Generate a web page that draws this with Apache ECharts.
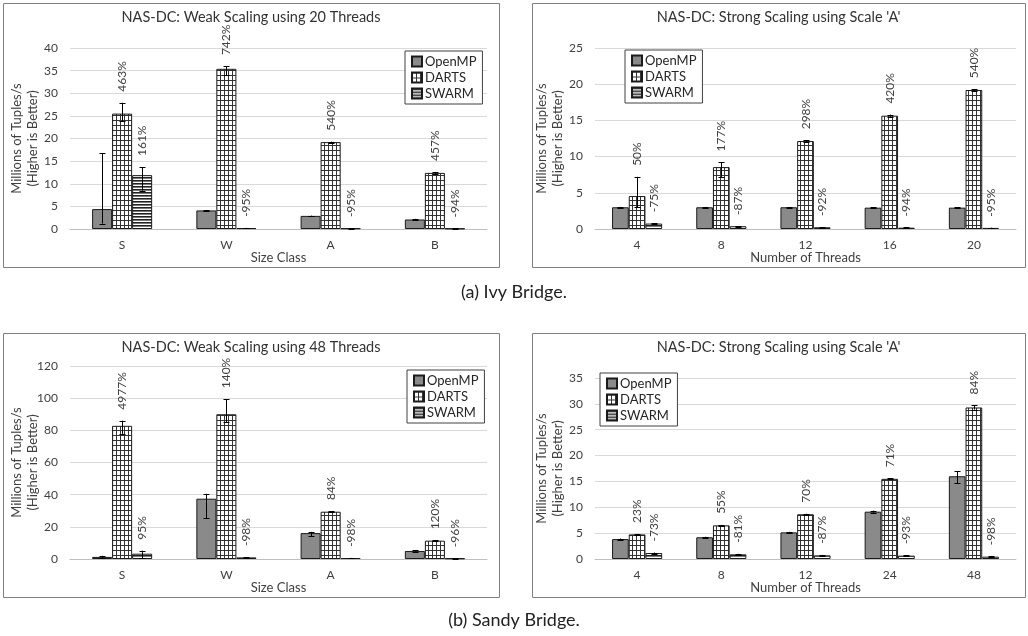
<!DOCTYPE html>
<html>
<head>
<meta charset="utf-8">
<script src="https://cdn.jsdelivr.net/npm/echarts@6/dist/echarts.min.js"></script>
<style>
html,body{margin:0;padding:0;background:#fff;}
#c{width:1028px;height:636px;}
</style>
</head>
<body>
<div id="c"></div>
<script>
// ---------- DATA ----------
const seriesNames = ['OpenMP', 'DARTS', 'SWARM'];

// (a) Ivy Bridge – weak scaling, 20 threads
const ivyWeakTitle = 'NAS-DC: Weak Scaling using 20 Threads';
const ivyWeakCats = ['S', 'W', 'A', 'B'];
const ivyWeakOpenMP = [4.4, 4.1, 2.9, 2.1];
const ivyWeakOpenMPErr = [[1.2, 16.7], [4.0, 4.2], [2.85, 2.95], [2.0, 2.25]];
const ivyWeakDARTS = [25.5, 35.4, 19.2, 12.4];
const ivyWeakDARTSErr = [[23.8, 27.9], [34.0, 36.0], [19.1, 19.3], [12.2, 12.6]];
const ivyWeakSWARM = [11.9, 0.2, 0.15, 0.1];
const ivyWeakSWARMErr = [[8.5, 13.7], [0.15, 0.25], [0.1, 0.2], [0.07, 0.13]];
const ivyWeakDARTSLabels = ['463%', '742%', '540%', '457%'];
const ivyWeakSWARMLabels = ['161%', '-95%', '-95%', '-94%'];
const ivyWeakYTicks = { max: 40, interval: 5 };

// (a) Ivy Bridge – strong scaling, scale 'A'
const ivyStrongTitle = "NAS-DC: Strong Scaling using Scale 'A'";
const ivyStrongCats = ['4', '8', '12', '16', '20'];
const ivyStrongOpenMP = [3.0, 3.0, 3.0, 2.95, 2.95];
const ivyStrongOpenMPErr = [[2.95, 3.05], [2.95, 3.05], [2.95, 3.05], [2.9, 3.0], [2.9, 3.0]];
const ivyStrongDARTS = [4.55, 8.55, 12.15, 15.65, 19.2];
const ivyStrongDARTSErr = [[3.0, 7.2], [7.2, 9.2], [12.05, 12.25], [15.5, 15.8], [19.1, 19.3]];
const ivyStrongSWARM = [0.75, 0.38, 0.24, 0.18, 0.15];
const ivyStrongSWARMErr = [[0.7, 0.8], [0.34, 0.42], [0.2, 0.28], [0.15, 0.21], [0.12, 0.18]];
const ivyStrongDARTSLabels = ['50%', '177%', '298%', '420%', '540%'];
const ivyStrongSWARMLabels = ['-75%', '-87%', '-92%', '-94%', '-95%'];
const ivyStrongYTicks = { max: 25, interval: 5 };

// (b) Sandy Bridge – weak scaling, 48 threads
const sandyWeakTitle = 'NAS-DC: Weak Scaling using 48 Threads';
const sandyWeakCats = ['S', 'W', 'A', 'B'];
const sandyWeakOpenMP = [1.3, 37.5, 16.1, 5.0];
const sandyWeakOpenMPErr = [[0.6, 2.0], [25.4, 40.5], [14.3, 16.9], [4.6, 5.4]];
const sandyWeakDARTS = [82.8, 90.0, 29.4, 11.4];
const sandyWeakDARTSErr = [[77.8, 86.0], [85.0, 99.3], [29.0, 29.8], [11.2, 11.6]];
const sandyWeakSWARM = [3.3, 1.0, 0.6, 0.4];
const sandyWeakSWARMErr = [[0.5, 5.2], [0.8, 1.2], [0.5, 0.7], [0.3, 0.5]];
const sandyWeakDARTSLabels = ['4977%', '140%', '84%', '120%'];
const sandyWeakSWARMLabels = ['95%', '-98%', '-98%', '-96%'];
const sandyWeakYTicks = { max: 120, interval: 20 };

// (b) Sandy Bridge – strong scaling, scale 'A'
const sandyStrongTitle = "NAS-DC: Strong Scaling using Scale 'A'";
const sandyStrongCats = ['4', '8', '12', '24', '48'];
const sandyStrongOpenMP = [3.85, 4.2, 5.15, 9.15, 16.0];
const sandyStrongOpenMPErr = [[3.75, 3.95], [4.1, 4.3], [5.05, 5.25], [8.95, 9.35], [14.6, 17.0]];
const sandyStrongDARTS = [4.75, 6.5, 8.65, 15.5, 29.3];
const sandyStrongDARTSErr = [[4.65, 4.85], [6.4, 6.6], [8.55, 8.75], [15.4, 15.6], [28.9, 29.7]];
const sandyStrongSWARM = [1.15, 0.9, 0.7, 0.65, 0.45];
const sandyStrongSWARMErr = [[1.05, 1.25], [0.8, 1.0], [0.6, 0.8], [0.55, 0.75], [0.38, 0.52]];
const sandyStrongDARTSLabels = ['23%', '55%', '70%', '71%', '84%'];
const sandyStrongSWARMLabels = ['-73%', '-81%', '-87%', '-93%', '-98%'];
const sandyStrongYTicks = { max: 35, interval: 5 };

const captionA = '(a) Ivy Bridge.';
const captionB = '(b) Sandy Bridge.';
const yName = 'Millions of Tuples/s\n(Higher is Better)';

// ---------- STYLE / PATTERNS ----------
function makePattern(w, h, draw) {
  const c = document.createElement('canvas');
  c.width = w; c.height = h;
  const ctx = c.getContext('2d');
  ctx.fillStyle = '#fff'; ctx.fillRect(0, 0, w, h);
  draw(ctx);
  return { image: c, repeat: 'repeat' };
}
const gridPattern = makePattern(4, 5, ctx => {
  ctx.fillStyle = '#333';
  ctx.fillRect(0, 0, 4, 1);
  ctx.fillRect(0, 0, 1, 5);
});
const hLinePattern = makePattern(4, 3, ctx => {
  ctx.fillStyle = '#222';
  ctx.fillRect(0, 0, 4, 1.6);
});
const fills = ['#8a8a8a', gridPattern, hLinePattern];

const FONT = 'Lato, "Open Sans", sans-serif';
const TXT = '#404040';

const panels = [
  { title: ivyWeakTitle, cats: ivyWeakCats, vals: [ivyWeakOpenMP, ivyWeakDARTS, ivyWeakSWARM],
    errs: [ivyWeakOpenMPErr, ivyWeakDARTSErr, ivyWeakSWARMErr],
    labels: [null, ivyWeakDARTSLabels, ivyWeakSWARMLabels], y: ivyWeakYTicks, xName: 'Size Class',
    box: [3, 3, 496, 264], grid: { left: 70, top: 48, width: 417, height: 181 }, gap: 0.424,
    legend: { left: 405, top: 51 } },
  { title: ivyStrongTitle, cats: ivyStrongCats, vals: [ivyStrongOpenMP, ivyStrongDARTS, ivyStrongSWARM],
    errs: [ivyStrongOpenMPErr, ivyStrongDARTSErr, ivyStrongSWARMErr],
    labels: [null, ivyStrongDARTSLabels, ivyStrongSWARMLabels], y: ivyStrongYTicks, xName: 'Number of Threads',
    box: [532, 3, 493, 264], grid: { left: 595, top: 48, width: 421, height: 181 }, gap: 0.405,
    legend: { left: 625, top: 50 } },
  { title: sandyWeakTitle, cats: sandyWeakCats, vals: [sandyWeakOpenMP, sandyWeakDARTS, sandyWeakSWARM],
    errs: [sandyWeakOpenMPErr, sandyWeakDARTSErr, sandyWeakSWARMErr],
    labels: [null, sandyWeakDARTSLabels, sandyWeakSWARMLabels], y: sandyWeakYTicks, xName: 'Size Class',
    box: [3, 333, 496, 264], grid: { left: 70, top: 366, width: 417, height: 193 }, gap: 0.424,
    legend: { left: 407, top: 370 } },
  { title: sandyStrongTitle, cats: sandyStrongCats, vals: [sandyStrongOpenMP, sandyStrongDARTS, sandyStrongSWARM],
    errs: [sandyStrongOpenMPErr, sandyStrongDARTSErr, sandyStrongSWARMErr],
    labels: [null, sandyStrongDARTSLabels, sandyStrongSWARMLabels], y: sandyStrongYTicks, xName: 'Number of Threads',
    box: [532, 333, 493, 264], grid: { left: 595, top: 378, width: 421, height: 181 }, gap: 0.405,
    legend: { left: 600, top: 373 } }
];

const option = {
  backgroundColor: '#fff',
  animation: false,
  textStyle: { fontFamily: FONT },
  grid: [], xAxis: [], yAxis: [], series: [], legend: [], graphic: []
};

panels.forEach((p, gi) => {
  option.grid.push(Object.assign({ containLabel: false }, p.grid));
  option.xAxis.push({
    type: 'category', gridIndex: gi, data: p.cats,
    axisLine: { lineStyle: { color: '#bfbfbf', width: 1 } },
    axisTick: { show: false },
    axisLabel: { color: TXT, fontSize: 12, margin: 10, fontFamily: FONT },
    name: p.xName, nameLocation: 'middle', nameGap: 22, nameMoveOverlap: false,
    nameTextStyle: { color: TXT, fontSize: 13, fontFamily: FONT }
  });
  option.yAxis.push({
    type: 'value', gridIndex: gi, min: 0, max: p.y.max, interval: p.y.interval,
    axisLine: { show: false }, axisTick: { show: false },
    splitLine: { lineStyle: { color: '#d9d9d9', width: 1 } },
    axisLabel: { color: TXT, fontSize: 12, margin: 12, fontFamily: FONT },
    name: yName, nameLocation: 'middle', nameGap: 29, nameRotate: 90, nameMoveOverlap: false,
    nameTextStyle: { color: TXT, fontSize: 13, lineHeight: 16, fontFamily: FONT, align: 'center' }
  });
  p.vals.forEach((arr, k) => {
    option.series.push({
      type: 'bar', name: seriesNames[k], xAxisIndex: gi, yAxisIndex: gi,
      data: arr, barGap: '0%', barCategoryGap: (p.gap * 100) + '%',
      itemStyle: { color: fills[k], borderColor: '#1a1a1a', borderWidth: 1 },
      z: 2
    });
  });
  p.vals.forEach((arr, k) => {
    const errs = p.errs[k];
    const labels = p.labels[k];
    option.series.push({
      type: 'custom', xAxisIndex: gi, yAxisIndex: gi, z: 5, silent: true,
      data: arr.map((v, i) => [i, errs[i][0], errs[i][1], v]),
      renderItem: function (params, api) {
        const i = api.value(0), lo = api.value(1), hi = api.value(2), v = api.value(3);
        const band = api.size([1, 0])[0];
        const bw = band * (1 - p.gap) / 3;
        const off = (k - 1) * bw;
        const pLo = api.coord([i, lo]);
        const pHi = api.coord([i, hi]);
        const pV = api.coord([i, v]);
        const x = Math.round(pLo[0] + off) + 0.5;
        const cap = 3;
        const ls = { stroke: '#000', lineWidth: 1 };
        const children = [
          { type: 'line', shape: { x1: x, y1: pLo[1], x2: x, y2: pHi[1] }, style: ls },
          { type: 'line', shape: { x1: x - cap, y1: Math.round(pLo[1]) + 0.5, x2: x + cap, y2: Math.round(pLo[1]) + 0.5 }, style: ls },
          { type: 'line', shape: { x1: x - cap, y1: Math.round(pHi[1]) + 0.5, x2: x + cap, y2: Math.round(pHi[1]) + 0.5 }, style: ls }
        ];
        if (labels) {
          const topY = Math.min(pHi[1], pV[1]);
          children.push({
            type: 'text', x: x, y: topY - 11, rotation: Math.PI / 2,
            style: { text: labels[params.dataIndex], fill: TXT, font: '12px ' + FONT,
                     align: 'left', verticalAlign: 'middle' }
          });
        }
        return { type: 'group', children: children };
      }
    });
  });
  option.legend.push({
    data: seriesNames, orient: 'vertical', left: p.legend.left, top: p.legend.top,
    icon: 'rect', itemWidth: 10, itemHeight: 10, itemGap: 3,
    borderColor: '#404040', borderWidth: 1, padding: [4, 6, 4, 6],
    backgroundColor: '#fff', selectedMode: false,
    textStyle: { color: '#262626', fontSize: 13, fontFamily: FONT, padding: [0, 0, 0, -2] }
  });
  const b = p.box;
  option.graphic.push({
    type: 'rect', shape: { x: b[0] + 0.5, y: b[1] + 0.5, width: b[2], height: b[3] },
    style: { fill: 'none', stroke: '#808080', lineWidth: 1 }, z: 0, silent: true
  });
  option.graphic.push({
    type: 'text', x: b[0] + b[2] / 2, y: b[1] + 14,
    style: { text: p.title, fill: '#333', font: '14.5px ' + FONT, align: 'center', verticalAlign: 'middle' },
    silent: true
  });
});

option.graphic.push({
  type: 'text', x: 514, y: 292,
  style: { text: captionA, fill: '#222', font: '18px ' + FONT, align: 'center', verticalAlign: 'middle' }
});
option.graphic.push({
  type: 'text', x: 514, y: 620,
  style: { text: captionB, fill: '#222', font: '18px ' + FONT, align: 'center', verticalAlign: 'middle' }
});

const chart = echarts.init(document.getElementById('c'), null, { renderer: 'canvas' });
chart.setOption(option);
</script>
</body>
</html>
